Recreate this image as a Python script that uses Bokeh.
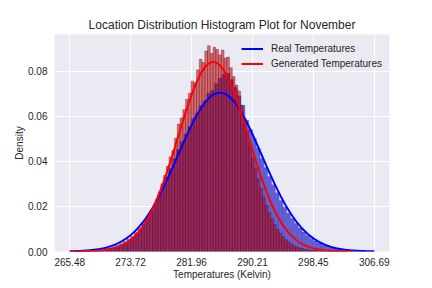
import numpy as np
from bokeh.plotting import figure
from bokeh.models import (Range1d, FixedTicker, PrintfTickFormatter, Legend, LegendItem)
from bokeh.embed import file_html
from bokeh.resources import INLINE

# ---------------- data ----------------
title = "Location Distribution Histogram Plot for November"
x_label = "Temperatures (Kelvin)"
y_label = "Density"
x_tick_labels = ["265.48", "273.72", "281.96", "290.21", "298.45", "306.69"]
y_ticks = [0.00, 0.02, 0.04, 0.06, 0.08]

# real temperatures histogram (80 bins between min and max)
real_min, real_max = 265.48, 306.69
real_density = [
    0.0001, 0.0001, 0.0002, 0.0002, 0.0003, 0.0004, 0.0005, 0.0007, 0.0009, 0.0012,
    0.0016, 0.0021, 0.0027, 0.0034, 0.0043, 0.0054, 0.0067, 0.0083, 0.0101, 0.0122,
    0.0152, 0.0180, 0.0212, 0.0249, 0.0288, 0.0330, 0.0368, 0.0412, 0.0452, 0.0488,
    0.0521, 0.0553, 0.0590, 0.0612, 0.0648, 0.0668, 0.0702, 0.0715, 0.0745, 0.0768,
    0.0785, 0.0790, 0.0762, 0.0728, 0.0690, 0.0648, 0.0582, 0.0541, 0.0500, 0.0458,
    0.0412, 0.0372, 0.0332, 0.0296, 0.0260, 0.0226, 0.0196, 0.0170, 0.0146, 0.0124,
    0.0104, 0.0087, 0.0071, 0.0058, 0.0047, 0.0038, 0.0030, 0.0024, 0.0019, 0.0015,
    0.0011, 0.0009, 0.0007, 0.0005, 0.0004, 0.0003, 0.0002, 0.0002, 0.0001, 0.0001,
]

# generated temperatures histogram (100 bins between min and max)
gen_min, gen_max = 265.9, 303.1
gen_density = [
    0.00002, 0.00003, 0.00004, 0.00006, 0.00008, 0.0001, 0.00014, 0.00018, 0.00024, 0.00032,
    0.00042, 0.00055, 0.0007, 0.0009, 0.00115, 0.00145, 0.0018, 0.0023, 0.0028, 0.0035,
    0.0043, 0.0053, 0.0064, 0.0077, 0.0092, 0.0109, 0.0128, 0.0150, 0.0174, 0.0201,
    0.0232, 0.0265, 0.0300, 0.0338, 0.0379, 0.0420, 0.0448, 0.0502, 0.0565, 0.0592,
    0.0630, 0.0675, 0.0702, 0.0755, 0.0748, 0.0805, 0.0852, 0.0838, 0.0889, 0.0912,
    0.0878, 0.0905, 0.0896, 0.0871, 0.0893, 0.0858, 0.0862, 0.0815, 0.0776, 0.0738,
    0.0712, 0.0648, 0.0590, 0.0535, 0.0470, 0.0418, 0.0370, 0.0322, 0.0280, 0.0241,
    0.0205, 0.0172, 0.0145, 0.0120, 0.0099, 0.0081, 0.0066, 0.0053, 0.0043, 0.0034,
    0.0027, 0.0021, 0.0016, 0.0013, 0.0010, 0.0008, 0.0006, 0.00045, 0.00035, 0.00027,
    0.0002, 0.00015, 0.00011, 0.00008, 0.00006, 0.00004, 0.00003, 0.00002, 0.00002, 0.00001,
]

# fitted normal distributions (mean, std) and the span they are drawn on
real_mean, real_std = 285.8, 5.67
gen_mean, gen_std = 284.9, 4.75
real_fit_span = (265.48, 306.69)
gen_fit_span = (265.5, 303.9)

legend_labels = ["Real Temperatures", "Generated Temperatures"]

# ---------------- figure ----------------
FONT = "Liberation Sans"
TEXT = "#262626"

p = figure(width=424, height=287, output_backend="svg", toolbar_location=None,
           min_border_left=54, min_border_right=35, min_border_top=34, min_border_bottom=36,
           x_range=Range1d(263.42, 308.75), y_range=Range1d(0, 0.0962))
p.background_fill_color = "#EAEAF2"
p.border_fill_color = "white"
p.outline_line_color = None

p.title.text = title
p.title.align = "center"
p.title.text_font = FONT
p.title.text_font_size = "12px"
p.title.text_font_style = "normal"
p.title.text_color = TEXT
p.title.standoff = 5

for g in (p.xgrid, p.ygrid):
    g.grid_line_color = "white"
    g.grid_line_width = 1
    g.level = "underlay"

x_tick_vals = [float(s) for s in x_tick_labels]
p.xaxis.ticker = FixedTicker(ticks=x_tick_vals)
p.xaxis.major_label_overrides = {v: s for v, s in zip(x_tick_vals, x_tick_labels)}
p.yaxis.ticker = FixedTicker(ticks=y_ticks)
p.yaxis.formatter = PrintfTickFormatter(format="%.2f")

for ax in (p.xaxis, p.yaxis):
    ax.axis_line_color = None
    ax.major_tick_line_color = None
    ax.minor_tick_line_color = None
    ax.major_label_text_font = FONT
    ax.major_label_text_font_size = "10px"
    ax.major_label_text_color = TEXT
    ax.axis_label_text_font = FONT
    ax.axis_label_text_font_size = "10px"
    ax.axis_label_text_font_style = "normal"
    ax.axis_label_text_color = TEXT
p.xaxis.axis_label = x_label
p.yaxis.axis_label = y_label
p.xaxis.major_label_standoff = 0
p.yaxis.major_label_standoff = 1
p.xaxis.axis_label_standoff = 0
p.yaxis.axis_label_standoff = 0

# histograms
real_edges = np.linspace(real_min, real_max, len(real_density) + 1)
gen_edges = np.linspace(gen_min, gen_max, len(gen_density) + 1)

p.quad(left=real_edges[:-1], right=real_edges[1:], top=real_density, bottom=0,
       fill_color="#6060d2", fill_alpha=1.0, line_color="#3c3ca8", line_width=0.5, line_alpha=0.6)
p.quad(left=gen_edges[:-1], right=gen_edges[1:], top=gen_density, bottom=0,
       fill_color="#c40000", fill_alpha=0.55, line_color="#4a0418", line_width=0.5, line_alpha=0.6)

# fitted curves
def norm_pdf(x, m, s):
    return np.exp(-0.5 * ((x - m) / s) ** 2) / (s * np.sqrt(2 * np.pi))

xr = np.linspace(real_fit_span[0], real_fit_span[1], 300)
xg = np.linspace(gen_fit_span[0], gen_fit_span[1], 300)
r1 = p.line(xr, norm_pdf(xr, real_mean, real_std), line_color="blue", line_width=2)
r2 = p.line(xg, norm_pdf(xg, gen_mean, gen_std), line_color="red", line_width=2)

legend = Legend(items=[LegendItem(label=legend_labels[0], renderers=[r1]),
                       LegendItem(label=legend_labels[1], renderers=[r2])],
                location="top_right")
legend.background_fill_alpha = 0
legend.border_line_alpha = 0
legend.label_text_font = FONT
legend.label_text_font_size = "10px"
legend.label_text_color = TEXT
legend.glyph_width = 22
legend.glyph_height = 15
legend.label_height = 15
legend.label_standoff = 8
legend.spacing = 0
legend.margin = 4
legend.padding = 3
p.add_layout(legend)

open("out.html", "w").write(file_html(p, INLINE))
